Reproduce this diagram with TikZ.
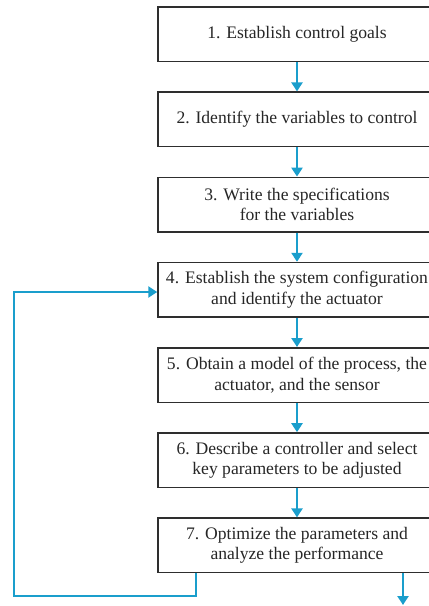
\documentclass[tikz,border=0pt]{standalone}
\usepackage{fontspec}
\setmainfont{Liberation Serif}
\usetikzlibrary{arrows.meta}
\definecolor{flowc}{HTML}{1A9ECC}
\definecolor{boxc}{HTML}{2E2E2E}
\definecolor{txtc}{HTML}{262626}
\begin{document}
\begin{tikzpicture}[x=1pt,y=-1pt,
  stepbox/.style={draw=boxc, line width=1.5pt, minimum width=278pt, minimum height=54.5pt,
    inner sep=0pt, align=center, text=txtc,
    font=\fontsize{17.6}{20.5}\selectfont},
  flow/.style={draw=flowc, line width=2.5pt,
    -{Triangle[width=11pt,length=9pt]}}]
\useasboundingbox (0,0) rectangle (429,606);
\clip (0,0) rectangle (429,606);
\node[stepbox] (b1) at (297,34.2) {1. Establish control goals};
\node[stepbox] (b2) at (297,119.4) {2. Identify the variables to control};
\node[stepbox] (b3) at (297,204.6) {3. Write the specifications\\for the variables};
\node[stepbox] (b4) at (297,289.8) {4. Establish the system configuration\\and identify the actuator};
\node[stepbox] (b5) at (297,375.0) {5. Obtain a model of the process, the\\actuator, and the sensor};
\node[stepbox] (b6) at (297,460.2) {6. Describe a controller and select\\key parameters to be adjusted};
\node[stepbox] (b7) at (297,545.4) {7. Optimize the parameters and\\analyze the performance};
\draw[flow] (b1) -- (b2);
\draw[flow] (b2) -- (b3);
\draw[flow] (b3) -- (b4);
\draw[flow] (b4) -- (b5);
\draw[flow] (b5) -- (b6);
\draw[flow] (b6) -- (b7);
\coordinate (out) at (403,605);
\draw[flow] (b7.south -| out) -- (out);
\coordinate (fb1) at (196,596);
\coordinate (fb2) at (14,596);
\coordinate (fb3) at (14,292);
\draw[flow, line join=miter] (b7.south -| fb1) -- (fb1) -- (fb2) -- (fb3) -- (fb3 -| b4.west);
\end{tikzpicture}
\end{document}
